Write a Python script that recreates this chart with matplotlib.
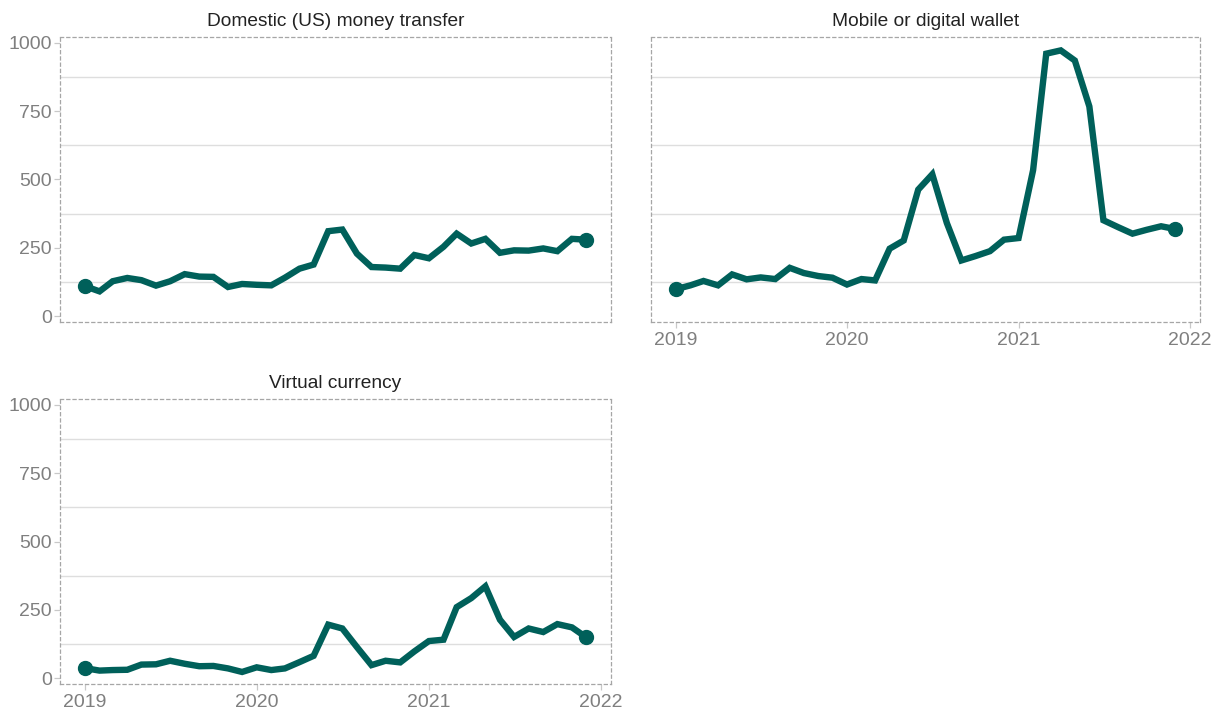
import matplotlib
matplotlib.use("Agg")
import matplotlib.pyplot as plt
import matplotlib.dates as mdates
import pandas as pd
import numpy as np

plt.rcParams['font.family'] = ['Liberation Sans', 'DejaVu Sans']

months = pd.date_range('2019-01-01', periods=36, freq='MS')

titles = ["Domestic (US) money transfer", "Mobile or digital wallet", "Virtual currency"]

domestic = [110, 91, 128, 140, 132, 112, 128, 154, 145, 144, 107, 118,
            115, 113, 141, 174, 189, 311, 317, 229, 180, 178, 174, 224,
            212, 254, 302, 266, 283, 232, 241, 240, 248, 238, 283, 280]
mobile = [99, 113, 129, 113, 153, 135, 142, 136, 177, 158, 147, 141,
          116, 136, 131, 247, 277, 463, 519, 341, 204, 220, 238, 280,
          286, 534, 960, 972, 935, 767, 351, 326, 302, 316, 329, 319]
virtual = [37, 28, 30, 31, 50, 51, 64, 53, 44, 45, 36, 23,
           40, 30, 36, 59, 82, 196, 182, 114, 48, 64, 58, 98,
           136, 141, 260, 293, 336, 214, 151, 182, 169, 198, 186, 150]

series = [domestic, mobile, virtual]
y_ticks = [0, 250, 500, 750, 1000]
grid_vals = [125, 375, 625, 875]
x_tick_years = ['2019', '2020', '2021', '2022']

W, H = 1221, 715
fig = plt.figure(figsize=(W / 100, H / 100), dpi=100)

rects = [
    (60, 37, 611, 322),
    (651, 37, 1200, 322),
    (60, 399, 611, 684),
]

line_color = '#00605A'
pad = pd.Timedelta(days=53)

for k, (x0, y0, x1, y1) in enumerate(rects):
    ax = fig.add_axes([x0 / W, 1 - y1 / H, (x1 - x0) / W, (y1 - y0) / H])
    vals = series[k]
    for g in grid_vals:
        ax.axhline(g, color='#dedede', lw=1.0, zorder=0)
    ax.plot(months, vals, color=line_color, lw=4.6, solid_joinstyle='miter',
            solid_capstyle='butt', zorder=3)
    ax.plot([months[0], months[-1]], [vals[0], vals[-1]], 'o', color=line_color,
            ms=10, zorder=4)
    ax.set_xlim(months[0] - pad, months[-1] + pad)
    ax.set_ylim(-21, 1021)
    for sp in ax.spines.values():
        sp.set_linestyle((0, (2.5, 2.5)))
        sp.set_color('#a6a6a6')
        sp.set_linewidth(0.9)
    ax.set_yticks(y_ticks)
    ax.set_xticks([pd.Timestamp(y + '-01-01') for y in x_tick_years])
    ax.set_xticklabels(x_tick_years)
    ax.tick_params(axis='both', colors='#c8c8c8', labelcolor='#7f7f7f',
                   labelsize=14, length=4, width=0.9)
    ax.tick_params(axis='y', pad=2)
    ax.tick_params(axis='x', pad=3)
    if k == 1:
        ax.tick_params(axis='y', left=False, labelleft=False)
    if k == 0:
        ax.tick_params(axis='x', bottom=False, labelbottom=False)
    ax.set_title(titles[k], fontsize=13.8, color='#222222', pad=8)

fig.savefig('out.png', dpi=100)
